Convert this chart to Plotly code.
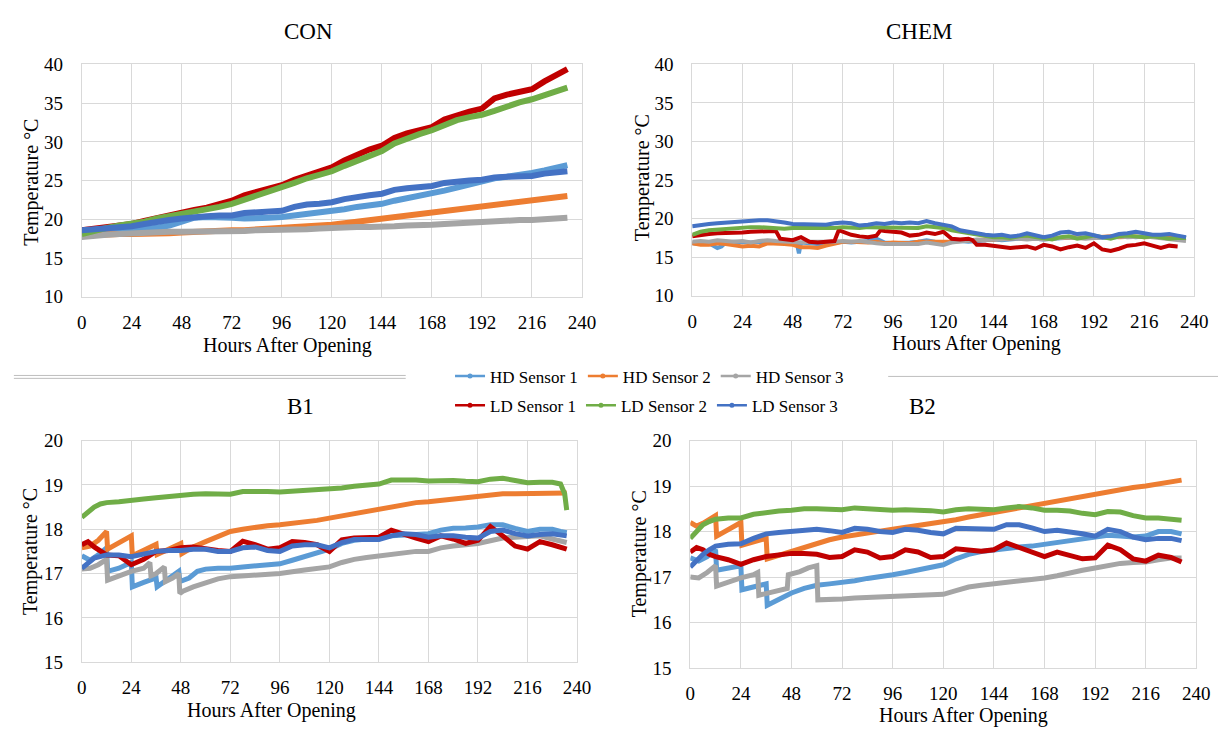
import plotly.graph_objects as go

# ---------------- series names and colours ----------------
SERIES = ["HD Sensor 1", "HD Sensor 2", "HD Sensor 3",
          "LD Sensor 1", "LD Sensor 2", "LD Sensor 3"]
COLORS = ["#5B9BD5", "#ED7D31", "#A5A5A5", "#C00000", "#70AD47", "#4472C4"]

X_TICKS = [0, 24, 48, 72, 96, 120, 144, 168, 192, 216, 240]

# ---------------- CON ----------------
CON_HOURS = [0, 6, 12, 18, 24, 30, 36, 42, 48, 54, 60, 66, 72, 78, 84, 90, 96, 102, 108, 114,
             120, 126, 132, 138, 144, 150, 156, 162, 168, 174, 180, 186, 192, 198, 204, 210, 216, 222, 228, 233]
CON_HD1 = [18.4, 18.5, 18.5, 18.6, 18.6, 18.7, 18.9, 19.2, 19.8, 20.2, 20.3, 20.3, 20.2, 20.1, 20.1, 20.2, 20.3, 20.5, 20.7, 20.8,
           21.0, 21.3, 21.6, 21.8, 22.0, 22.4, 22.7, 23.0, 23.3, 23.7, 24.1, 24.5, 24.9, 25.3, 25.5, 25.7, 26.0, 26.3, 26.7, 27.0]
CON_HD2 = [17.9, 18.0, 18.0, 18.1, 18.1, 18.1, 18.2, 18.2, 18.3, 18.4, 18.5, 18.5, 18.6, 18.6, 18.7, 18.8, 18.8, 18.9, 19.0, 19.1,
           19.3, 19.5, 19.7, 19.9, 20.1, 20.3, 20.5, 20.7, 20.9, 21.1, 21.3, 21.5, 21.7, 21.9, 22.1, 22.3, 22.5, 22.7, 22.9, 23.0]
CON_HD3 = [17.7, 17.9, 18.0, 18.1, 18.2, 18.3, 18.3, 18.4, 18.4, 18.4, 18.5, 18.5, 18.5, 18.5, 18.6, 18.6, 18.6, 18.7, 18.7, 18.8,
           18.9, 18.9, 19.0, 19.0, 19.0, 19.1, 19.2, 19.2, 19.3, 19.4, 19.5, 19.6, 19.7, 19.8, 19.8, 19.9, 19.9, 20.0, 20.1, 20.2]
CON_LD1 = [18.6, 18.8, 18.9, 19.1, 19.4, 19.8, 20.2, 20.5, 20.8, 21.2, 21.5, 21.9, 22.4, 23.1, 23.5, 23.9, 24.4, 25.1, 25.7, 26.1,
           26.7, 27.6, 28.4, 29.0, 29.5, 30.5, 31.1, 31.5, 31.9, 32.9, 33.5, 33.9, 34.3, 35.6, 36.1, 36.4, 36.8, 37.8, 38.7, 39.4]
CON_LD2 = [18.1, 18.6, 18.9, 19.2, 19.4, 19.7, 20.1, 20.4, 20.6, 21.0, 21.3, 21.6, 22.0, 22.5, 23.0, 23.5, 24.0, 24.7, 25.3, 25.7,
           26.2, 26.9, 27.6, 28.2, 28.8, 29.8, 30.5, 31.0, 31.5, 32.2, 32.8, 33.2, 33.5, 34.0, 34.6, 35.1, 35.5, 36.0, 36.5, 37.0]
CON_LD3 = [18.6, 18.7, 18.9, 19.0, 19.1, 19.4, 19.7, 19.9, 20.1, 20.3, 20.4, 20.5, 20.5, 20.8, 20.9, 20.9, 21.1, 21.6, 21.9, 22.0,
           22.2, 22.6, 22.9, 23.1, 23.3, 23.8, 24.0, 24.1, 24.3, 24.7, 24.9, 25.0, 25.1, 25.4, 25.5, 25.5, 25.6, 25.9, 26.1, 26.2]

# ---------------- CHEM ----------------
CHEM_HOURS = [0, 4, 8, 12, 16, 20, 24, 28, 32, 36, 40, 44, 48, 52, 56, 60, 64, 68, 72, 76,
              80, 84, 88, 92, 96, 100, 104, 108, 112, 116, 120, 124, 128, 132, 136, 140, 144, 148, 152, 156,
              160, 164, 168, 172, 176, 180, 184, 188, 192, 196, 200, 204, 208, 212, 216, 220, 224, 228, 232, 236]
CHEM_HD2 = [16.8, 16.6, 16.6, 16.8, 16.7, 16.5, 16.4, 16.5, 16.4, 16.8, 16.8, 16.7, 16.6, 16.3, 16.3, 16.2, 16.5, 16.8, 17.0, 17.0,
            16.9, 16.9, 17.0, 16.8, 16.9, 16.9, 16.8, 17.0, 17.0, 17.0, 16.9, 17.0, 17.1, 17.2, 17.2, 17.3, 17.3, 17.4, 17.4, 17.5,
            17.4, 17.5, 17.5, 17.6, 17.5, 17.6, 17.6, 17.5, 17.6, 17.6, 17.7, 17.6, 17.7, 17.7, 17.6, 17.7, 17.7, 17.6, 17.6, 17.5]
CHEM_HD3 = [17.0, 17.1, 17.0, 17.2, 17.1, 17.0, 17.1, 16.9, 17.1, 17.2, 17.1, 17.0, 17.0, 16.9, 17.0, 17.0, 16.9, 17.0, 17.1, 17.0,
            17.1, 16.9, 16.8, 16.7, 16.7, 16.8, 16.8, 16.7, 16.9, 16.8, 16.6, 16.9, 17.0, 17.2, 17.3, 17.2, 17.4, 17.3, 17.5, 17.4,
            17.3, 17.4, 17.3, 17.4, 17.5, 17.6, 17.5, 17.4, 17.5, 17.6, 17.6, 17.7, 17.6, 17.7, 17.7, 17.6, 17.5, 17.3, 17.2, 17.1]
CHEM_LD2 = [17.9, 18.3, 18.5, 18.6, 18.7, 18.8, 18.8, 18.9, 18.9, 18.8, 18.7, 18.7, 18.8, 18.8, 18.7, 18.7, 18.8, 18.8, 18.9, 18.8,
            18.8, 18.9, 18.9, 18.8, 18.9, 18.9, 18.9, 18.8, 19.0, 18.9, 18.8, 18.5, 18.3, 18.2, 17.9, 17.7, 17.6, 17.6, 17.5, 17.7,
            17.8, 17.6, 17.5, 17.3, 17.6, 17.7, 17.4, 17.6, 17.8, 17.6, 17.4, 17.7, 17.8, 17.7, 17.6, 17.7, 17.5, 17.4, 17.5, 17.5]
CHEM_LD3 = [19.0, 19.2, 19.3, 19.4, 19.5, 19.6, 19.6, 19.7, 19.8, 19.8, 19.7, 19.5, 19.3, 19.3, 19.2, 19.3, 19.2, 19.4, 19.5, 19.4,
            19.1, 19.2, 19.4, 19.3, 19.5, 19.4, 19.5, 19.4, 19.7, 19.4, 19.2, 19.0, 18.5, 18.3, 18.0, 17.9, 17.8, 17.9, 17.7, 17.8,
            18.1, 17.8, 17.6, 17.8, 18.2, 18.3, 18.0, 18.1, 17.9, 17.6, 17.7, 18.0, 18.1, 18.3, 18.1, 17.9, 17.9, 18.0, 17.8, 17.6]
CHEM_HD1_HOURS = [0, 4, 8, 12, 14, 16, 20, 24, 28, 32, 36, 40, 44, 48, 50, 51, 52, 56, 60, 64,
                  68, 72, 76, 80, 84, 88, 92, 96, 100, 104, 108, 112, 116, 120, 124, 128, 132, 136, 140, 144,
                  148, 152, 156, 160, 164, 168, 172, 176, 180, 184, 188, 192, 196, 200, 204, 208, 212, 216, 220, 224,
                  228, 232, 236]
CHEM_HD1 = [16.8, 16.7, 16.8, 16.2, 16.4, 16.9, 17.0, 16.9, 16.9, 17.0, 16.9, 16.9, 16.9, 16.9, 16.8, 15.5, 16.9, 16.8, 16.7, 16.6,
            16.9, 17.0, 16.9, 17.0, 17.1, 17.4, 16.9, 16.8, 16.8, 16.9, 17.0, 17.2, 17.0, 16.9, 17.0, 17.1, 17.0, 17.1, 17.2, 17.3,
            17.2, 17.3, 17.4, 17.5, 17.4, 17.3, 17.4, 17.5, 17.5, 17.6, 17.5, 17.6, 17.5, 17.6, 17.7, 17.7, 17.6, 17.7, 17.8, 17.7,
            17.6, 17.7, 17.5]
CHEM_LD1_HOURS = [0, 4, 8, 12, 16, 20, 24, 28, 32, 36, 40, 42, 44, 48, 52, 56, 60, 64, 68, 70,
                  72, 76, 80, 84, 88, 90, 92, 96, 100, 104, 108, 112, 116, 120, 124, 128, 132, 134, 136, 140,
                  144, 148, 152, 156, 160, 164, 168, 172, 176, 180, 184, 188, 192, 196, 200, 204, 208, 212, 216, 220,
                  224, 228, 232]
CHEM_LD1 = [17.7, 17.9, 18.0, 18.1, 18.1, 18.2, 18.2, 18.3, 18.3, 18.3, 18.4, 17.4, 17.3, 17.2, 17.6, 17.0, 16.9, 17.0, 17.1, 18.5,
            18.3, 17.9, 17.7, 17.6, 17.8, 18.5, 18.4, 18.3, 18.2, 17.8, 17.9, 18.2, 18.0, 18.3, 17.4, 17.3, 17.4, 17.2, 16.6, 16.6,
            16.5, 16.3, 16.2, 16.3, 16.4, 16.1, 16.6, 16.4, 16.0, 16.3, 16.5, 16.2, 16.8, 16.0, 15.8, 16.1, 16.5, 16.6, 16.8, 16.5,
            16.2, 16.5, 16.4]

# ---------------- B1 ----------------
B1_HD1_HOURS = [0, 4, 8, 12, 12.5, 18, 24, 24.5, 30, 36, 36.5, 42, 47, 47.5, 52, 56, 60, 66, 72, 78,
                84, 90, 96, 102, 108, 114, 120, 126, 132, 138, 144, 150, 156, 162, 168, 174, 180, 186, 192, 198,
                204, 210, 216, 222, 228, 232, 235]
B1_HD1 = [17.4, 17.3, 17.42, 17.58, 17.05, 17.12, 17.25, 16.7, 16.8, 16.9, 16.7, 16.88, 17.05, 16.82, 16.9, 17.05, 17.1, 17.12, 17.12, 17.15,
          17.17, 17.2, 17.22, 17.3, 17.38, 17.48, 17.55, 17.68, 17.75, 17.78, 17.8, 17.85, 17.87, 17.88, 17.9, 17.98, 18.02, 18.03, 18.05, 18.1,
          18.1, 18.02, 17.95, 18.0, 18.0, 17.95, 17.92]
B1_HD2_HOURS = [0, 4, 8, 12, 12.5, 18, 24, 24.5, 30, 36, 36.5, 42, 48, 48.5, 54, 60, 66, 72, 78, 84,
                90, 96, 102, 108, 114, 120, 126, 132, 138, 144, 150, 156, 162, 168, 174, 180, 186, 192, 198, 204,
                210, 216, 222, 228, 235]
B1_HD2 = [17.58, 17.62, 17.75, 17.95, 17.55, 17.68, 17.85, 17.4, 17.52, 17.66, 17.43, 17.55, 17.68, 17.45, 17.6, 17.72, 17.85, 17.95, 18.0, 18.05,
          18.08, 18.1, 18.13, 18.16, 18.2, 18.25, 18.3, 18.37, 18.42, 18.47, 18.52, 18.56, 18.6, 18.62, 18.65, 18.68, 18.7, 18.74, 18.78, 18.8,
          18.8, 18.81, 18.82, 18.82, 18.82]
B1_HD3_HOURS = [0, 4, 8, 12, 12.5, 18, 24, 30, 33, 33.5, 36, 40, 40.5, 44, 47, 47.5, 49, 54, 60, 66,
                72, 84, 96, 108, 120, 126, 132, 138, 144, 150, 156, 162, 168, 174, 180, 186, 192, 198, 204, 210,
                216, 222, 228, 235]
B1_HD3 = [17.1, 17.12, 17.2, 17.32, 16.85, 16.95, 17.05, 17.12, 17.25, 16.95, 17.0, 17.15, 16.82, 16.9, 17.0, 16.55, 16.6, 16.7, 16.8, 16.88,
          16.93, 16.96, 17.0, 17.08, 17.15, 17.25, 17.32, 17.36, 17.4, 17.44, 17.48, 17.5, 17.5, 17.58, 17.62, 17.65, 17.68, 17.74, 17.8, 17.82,
          17.84, 17.85, 17.78, 17.7]
B1_HOURS = [0, 3, 6, 12, 18, 24, 30, 36, 42, 48, 54, 60, 66, 72, 78, 84, 90, 96, 102, 108,
            114, 120, 126, 132, 138, 144, 150, 156, 162, 168, 174, 180, 186, 192, 198, 204, 210, 216, 222, 228, 235]
B1_LD1 = [17.65, 17.72, 17.6, 17.42, 17.4, 17.2, 17.32, 17.5, 17.52, 17.58, 17.6, 17.55, 17.52, 17.5, 17.73, 17.65, 17.55, 17.58, 17.72, 17.7,
          17.65, 17.5, 17.76, 17.8, 17.82, 17.82, 17.98, 17.88, 17.8, 17.72, 17.85, 17.78, 17.68, 17.75, 18.06, 17.85, 17.62, 17.55, 17.72, 17.65, 17.55]
B1_LD3 = [17.12, 17.25, 17.35, 17.42, 17.42, 17.38, 17.45, 17.5, 17.52, 17.52, 17.55, 17.55, 17.5, 17.5, 17.58, 17.6, 17.52, 17.5, 17.62, 17.65,
          17.65, 17.58, 17.7, 17.77, 17.77, 17.77, 17.85, 17.9, 17.88, 17.82, 17.85, 17.85, 17.82, 17.8, 17.95, 17.98, 17.9, 17.85, 17.88, 17.9, 17.85]
B1_LD2_HOURS = [0, 3, 6, 9, 12, 18, 24, 30, 36, 42, 48, 54, 60, 66, 72, 78, 84, 90, 96, 102,
                108, 114, 120, 126, 132, 138, 144, 150, 156, 162, 168, 174, 180, 186, 192, 198, 204, 210, 216, 222,
                228, 232, 234, 235]
B1_LD2 = [18.27, 18.4, 18.5, 18.57, 18.6, 18.62, 18.64, 18.68, 18.71, 18.74, 18.77, 18.79, 18.8, 18.79, 18.79, 18.85, 18.86, 18.85, 18.84, 18.86,
          18.88, 18.89, 18.9, 18.93, 18.97, 18.99, 19.02, 19.11, 19.12, 19.11, 19.09, 19.1, 19.1, 19.08, 19.07, 19.13, 19.15, 19.1, 19.05, 19.06,
          19.06, 19.02, 18.8, 18.43]

# ---------------- B2 ----------------
B2_HD1_HOURS = [0, 4, 8, 12, 12.5, 18, 24, 24.5, 30, 36, 36.5, 42, 48, 54, 60, 66, 72, 78, 84, 90,
                96, 102, 108, 114, 120, 126, 132, 138, 144, 150, 156, 162, 168, 174, 180, 186, 192, 198, 204, 210,
                216, 222, 228, 233]
B2_HD1 = [17.42, 17.35, 17.45, 17.6, 17.15, 17.2, 17.25, 16.72, 16.78, 16.85, 16.38, 16.5, 16.65, 16.75, 16.82, 16.85, 16.88, 16.92, 16.97, 17.0,
          17.05, 17.1, 17.15, 17.2, 17.27, 17.4, 17.5, 17.56, 17.6, 17.63, 17.66, 17.68, 17.72, 17.77, 17.82, 17.85, 17.88, 17.92, 17.9, 17.88,
          17.9, 18.0, 18.0, 17.95]
B2_HD2_HOURS = [0, 3, 6, 12, 12.5, 18, 24, 24.5, 30, 36, 36.5, 42, 48, 54, 60, 66, 72, 78, 84, 90,
                96, 102, 108, 114, 120, 126, 132, 138, 144, 150, 156, 162, 168, 174, 180, 186, 192, 198, 204, 210,
                216, 222, 228, 233]
B2_HD2 = [18.2, 18.12, 18.18, 18.35, 17.9, 18.05, 18.2, 17.7, 17.78, 17.85, 17.4, 17.48, 17.55, 17.65, 17.75, 17.82, 17.88, 17.93, 17.97, 18.01,
          18.05, 18.09, 18.13, 18.17, 18.21, 18.26, 18.32, 18.37, 18.42, 18.48, 18.53, 18.58, 18.62, 18.67, 18.73, 18.78, 18.82, 18.88, 18.93, 18.97,
          19.0, 19.05, 19.1, 19.13]
B2_HD3_HOURS = [0, 4, 8, 12, 12.5, 18, 24, 30, 32, 32.5, 38, 44, 46, 46.5, 52, 56, 60, 60.5, 66, 72,
                78, 84, 90, 96, 102, 108, 114, 120, 126, 132, 138, 144, 150, 156, 162, 168, 174, 180, 186, 192,
                198, 204, 210, 216, 222, 228, 233]
B2_HD3 = [17.0, 16.98, 17.1, 17.25, 16.8, 16.9, 16.98, 17.05, 17.1, 16.6, 16.65, 16.72, 16.75, 17.05, 17.12, 17.2, 17.25, 16.5, 16.5, 16.52,
          16.54, 16.55, 16.56, 16.57, 16.58, 16.6, 16.6, 16.62, 16.7, 16.78, 16.82, 16.85, 16.88, 16.92, 16.95, 16.98, 17.03, 17.1, 17.15, 17.2,
          17.25, 17.3, 17.32, 17.33, 17.38, 17.42, 17.42]
B2_HOURS = [0, 3, 6, 9, 12, 18, 24, 30, 36, 42, 48, 54, 60, 66, 72, 78, 84, 90, 96, 102,
            108, 114, 120, 126, 132, 138, 144, 150, 156, 162, 168, 174, 180, 186, 192, 198, 204, 210, 216, 222,
            228, 233]
B2_LD2 = [17.85, 18.0, 18.15, 18.22, 18.27, 18.3, 18.3, 18.38, 18.42, 18.45, 18.47, 18.5, 18.5, 18.48, 18.48, 18.52, 18.5, 18.47, 18.47, 18.48,
          18.48, 18.46, 18.43, 18.48, 18.5, 18.48, 18.48, 18.52, 18.55, 18.52, 18.47, 18.47, 18.45, 18.4, 18.37, 18.44, 18.43, 18.35, 18.3, 18.3,
          18.28, 18.25]
B2_LD3 = [17.22, 17.38, 17.5, 17.6, 17.68, 17.72, 17.73, 17.85, 17.95, 17.98, 18.0, 18.03, 18.05, 18.02, 17.98, 18.07, 18.05, 18.0, 17.98, 18.05,
          18.03, 17.98, 17.95, 18.07, 18.07, 18.05, 18.05, 18.15, 18.15, 18.08, 18.0, 18.03, 18.0, 17.95, 17.9, 18.05, 18.0, 17.88, 17.82, 17.85,
          17.85, 17.8]
B2_LD1 = [17.55, 17.65, 17.6, 17.5, 17.45, 17.38, 17.28, 17.38, 17.45, 17.48, 17.52, 17.52, 17.5, 17.43, 17.45, 17.6, 17.55, 17.42, 17.45, 17.6,
          17.55, 17.43, 17.45, 17.62, 17.6, 17.57, 17.6, 17.75, 17.65, 17.55, 17.45, 17.55, 17.48, 17.4, 17.42, 17.7, 17.6, 17.4, 17.35, 17.48,
          17.43, 17.33]

# panel -> list of (hours, temps) in series order
PANELS = {
    "CON": [(CON_HOURS, CON_HD1), (CON_HOURS, CON_HD2), (CON_HOURS, CON_HD3),
            (CON_HOURS, CON_LD1), (CON_HOURS, CON_LD2), (CON_HOURS, CON_LD3)],
    "CHEM": [(CHEM_HD1_HOURS, CHEM_HD1), (CHEM_HOURS, CHEM_HD2), (CHEM_HOURS, CHEM_HD3),
             (CHEM_LD1_HOURS, CHEM_LD1), (CHEM_HOURS, CHEM_LD2), (CHEM_HOURS, CHEM_LD3)],
    "B1": [(B1_HD1_HOURS, B1_HD1), (B1_HD2_HOURS, B1_HD2), (B1_HD3_HOURS, B1_HD3),
           (B1_HOURS, B1_LD1), (B1_LD2_HOURS, B1_LD2), (B1_HOURS, B1_LD3)],
    "B2": [(B2_HD1_HOURS, B2_HD1), (B2_HD2_HOURS, B2_HD2), (B2_HD3_HOURS, B2_HD3),
           (B2_HOURS, B2_LD1), (B2_HOURS, B2_LD2), (B2_HOURS, B2_LD3)],
}
for name, series in PANELS.items():
    for hrs, vals in series:
        assert len(hrs) == len(vals), (name, len(hrs), len(vals))

# ---------------- layout geometry (pixels) ----------------
W, H = 1232, 749
FONT = "'Liberation Serif', 'Times New Roman', Times, serif"

# name: (axis suffix, left, right, top, bottom, y range, y ticks, line width)
GEOM = {
    "CON": ("", 78, 586, 56, 295, [10, 40], [10, 15, 20, 25, 30, 35, 40], 6),
    "CHEM": ("2", 698, 1208, 56, 294, [10, 40], [10, 15, 20, 25, 30, 35, 40], 4),
    "B1": ("3", 78, 581, 443, 671, [15, 20], [15, 16, 17, 18, 19, 20], 5),
    "B2": ("4", 696, 1210, 443, 677, [15, 20], [15, 16, 17, 18, 19, 20], 5),
}


def px(x):
    return x / W


def py(y):
    return 1 - y / H


fig = go.Figure()
layout = dict(
    width=W, height=H,
    margin=dict(l=0, r=0, t=0, b=0),
    paper_bgcolor="white", plot_bgcolor="white",
    font=dict(family=FONT, color="#000000"),
    showlegend=True,
)

for name, (sfx, l, r, t, b, yr, yt, lw) in GEOM.items():
    xa, ya = "x" + sfx, "y" + sfx
    for (hrs, vals), sname, col in zip(PANELS[name], SERIES, COLORS):
        fig.add_trace(go.Scatter(
            x=hrs, y=vals, mode="lines", name=sname,
            line=dict(color=col, width=lw), xaxis=xa, yaxis=ya,
            showlegend=False, hoverinfo="skip",
        ))
    axis_common = dict(
        showgrid=True, gridcolor="#D9D9D9", gridwidth=1,
        showline=True, linecolor="#D9D9D9", mirror=True, zeroline=False,
        ticks="", tickfont=dict(family=FONT, size=19, color="#000000"),
    )
    layout["xaxis" + sfx] = dict(
        axis_common, domain=[px(l), px(r)], range=[0, 240],
        tickvals=X_TICKS, anchor=ya, ticklabelstandoff=8,
    )
    layout["yaxis" + sfx] = dict(
        axis_common, domain=[py(b), py(t)], range=yr,
        tickvals=yt, anchor=xa, ticklabelstandoff=14,
    )

# legend entries (two rows)
for i, (sname, col) in enumerate(zip(SERIES, COLORS)):
    fig.add_trace(go.Scatter(
        x=[None], y=[None], mode="lines+markers", name=sname,
        line=dict(color=col, width=2.5), marker=dict(color=col, size=5, symbol="circle"),
        legend="legend" if i < 3 else "legend2",
    ))

legend_common = dict(
    orientation="h", xanchor="left", yanchor="middle",
    font=dict(family=FONT, size=17, color="#000000"),
    bgcolor="rgba(0,0,0,0)", itemwidth=30, tracegroupgap=0,
)
layout["legend"] = dict(legend_common, x=px(452), y=py(377))
layout["legend2"] = dict(legend_common, x=px(452), y=py(407))

# titles and axis labels
annotations = []
titles = {"CON": (308, 22), "CHEM": (928, 22), "B1": (300, 408), "B2": (932, 408)}
for txt, (x, y) in titles.items():
    annotations.append(dict(text=txt, x=px(x), y=py(y), xref="paper", yref="paper",
                            showarrow=False, xanchor="center", yanchor="middle",
                            font=dict(family=FONT, size=23, color="#000000")))
xtitles = {"CON": (287, 345), "CHEM": (987, 343), "B1": (271, 721), "B2": (974, 726)}
for _, (x, y) in xtitles.items():
    annotations.append(dict(text="Hours After Opening", x=px(x), y=py(y), xref="paper", yref="paper",
                            showarrow=False, xanchor="center", yanchor="middle",
                            font=dict(family=FONT, size=20, color="#000000")))
ytitles = {"CON": (26, 177), "CHEM": (647, 173), "B1": (26, 557), "B2": (644, 560)}
for _, (x, y) in ytitles.items():
    annotations.append(dict(text="Temperature °C", x=px(x), y=py(y), xref="paper", yref="paper",
                            showarrow=False, xanchor="center", yanchor="middle", textangle=-90,
                            font=dict(family=FONT, size=20, color="#000000")))
layout["annotations"] = annotations

# separator rules between the upper and lower charts
layout["shapes"] = [
    dict(type="line", xref="paper", yref="paper", x0=px(9), x1=px(407), y0=py(376), y1=py(376),
         line=dict(color="#BFBFBF", width=1)),
    dict(type="line", xref="paper", yref="paper", x0=px(9), x1=px(407), y0=py(379), y1=py(379),
         line=dict(color="#BFBFBF", width=1)),
    dict(type="line", xref="paper", yref="paper", x0=px(897), x1=px(1232), y0=py(377), y1=py(377),
         line=dict(color="#BFBFBF", width=1)),
]

fig.update_layout(**layout)
fig.write_html("out.html")
